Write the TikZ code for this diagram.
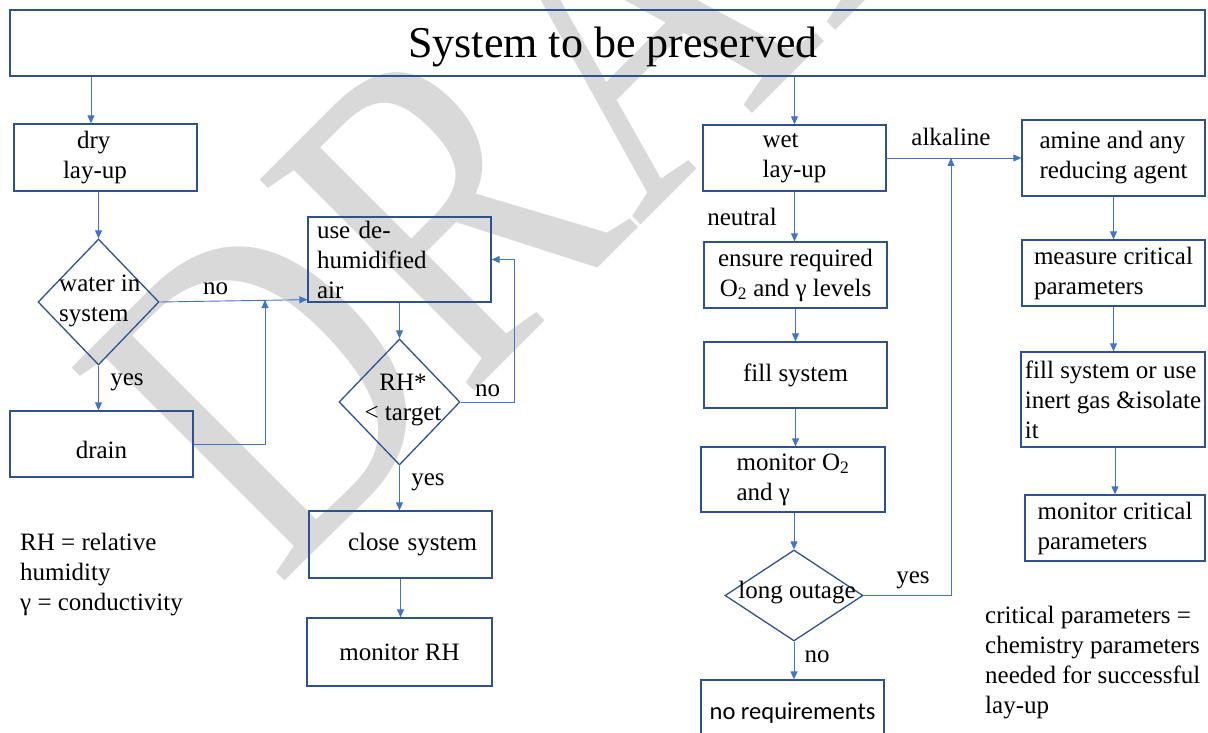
\documentclass[tikz,border=0pt]{standalone}
\usepackage{fontspec}
\setmainfont{Liberation Serif}
\newfontfamily\calfont{Carlito}
\usepackage{xcolor}
\usetikzlibrary{shapes.geometric,arrows.meta,positioning,calc}
\definecolor{boxblue}{HTML}{2F528F}
\definecolor{lineblue}{HTML}{4472C4}
\definecolor{wmgray}{HTML}{D9D9D9}

\begin{document}
\begin{tikzpicture}[x=1pt,y=-1pt,
    box/.style={draw=boxblue,line width=1.3pt,rectangle,align=left,inner sep=1pt,font=\fontsize{25}{30}\selectfont},
    dia/.style={draw=boxblue,line width=1.3pt,diamond,inner sep=0pt},
    txt/.style={font=\fontsize{25}{30}\selectfont,inner sep=0pt},
    arr/.style={draw=lineblue,line width=0.9pt,-{Triangle[length=8pt,width=7pt]}}]
    \useasboundingbox (0,0) rectangle (1208,733);
    \clip (0,0) rectangle (1208,733);

    % Watermark
    \node[rotate=45,anchor=base west,text=wmgray,inner sep=0pt,font=\fontsize{460}{460}\selectfont] (draft) at (277,589) {\scalebox{0.8}[1]{DRAFT}};

    % Top
    \node[box,align=center,minimum width=1195pt,minimum height=66pt,text depth=1pt,font=\fontsize{44}{50}\selectfont] (sys) at (607.5,43) {\hspace*{11pt}System to be preserved};

    % Dry branch
    \node[box,minimum width=183pt,minimum height=67pt,text width=85pt,inner xsep=49pt] (dry) at (105.5,157.5) {\hspace*{14pt}dry\\lay-up};
    \node[dia,minimum width=121pt,minimum height=126pt] (water) at (98.5,302) {};
    \node[txt,align=left,anchor=west] (water-t) at (59,301) {water in\\system};
    \node[box,align=center,minimum width=183pt,minimum height=66pt,text height=29pt] (drain) at (101.5,444) {drain};
    \node[box,minimum width=183pt,minimum height=85pt,text width=165pt,inner xsep=9pt,inner ysep=0pt] (dehum) at (399.5,259.5) {use de-\\humidified\\air};
    \node[dia,minimum width=121pt,minimum height=126pt] (rh) at (399.5,402) {};
    \node[txt,align=center] (rh-t) at (403,400) {RH*\\< target};
    \node[box,minimum width=183pt,minimum height=67pt,text width=183pt,inner xsep=0pt] (close) at (400.5,544.5) {\hspace*{39pt}close system};
    \node[box,align=center,minimum width=185pt,minimum height=68pt] (monrh) at (399.5,652) {monitor RH};
    \node[txt,align=left,anchor=west] (legend-rh) at (20,575) {RH = relative\\humidity\\γ = conductivity};

    % Wet branch
    \node[box,minimum width=183pt,minimum height=66pt] (wet) at (794.5,158) {wet\\lay-up};
    \node[box,minimum width=183pt,minimum height=76pt] (amine) at (1113.5,158) {amine and any\\reducing agent};
    \node[box,align=center,minimum width=183pt,minimum height=66pt] (ensure) at (795.5,275) {ensure required\\O\textsubscript{2} and γ levels};
    \node[box,align=center,minimum width=183pt,minimum height=66pt] (fillsys) at (795.5,375) {fill system};
    \node[box,minimum width=184pt,minimum height=65pt] (mono) at (793,479.5) {monitor O\textsubscript{2}\\and γ};
    \node[dia,minimum width=138pt,minimum height=91pt] (outage) at (794,595.5) {};
    \node[txt] (outage-t) at (797,593) {long outage};
    \node[box,align=center,minimum width=183pt,minimum height=66pt,font=\calfont\fontsize{24.5}{30}\selectfont] (noreq) at (792.5,713) {no requirements};
    \node[box,minimum width=183pt,minimum height=66pt] (measure) at (1113.5,273) {measure critical\\parameters};
    \node[box,minimum width=184pt,minimum height=95pt] (fillgas) at (1113,399.5) {fill system or use\\inert gas \&isolate\\it};
    \node[box,minimum width=180pt,minimum height=66pt] (moncrit) at (1115,528) {monitor critical\\parameters};
    \node[txt,align=left,anchor=west] (legend-cp) at (985,663) {critical parameters =\\chemistry parameters\\needed for successful\\lay-up};

    % Labels
    \node[txt] (no-water) at (215.5,289) {no};
    \node[txt] (yes-water) at (127,382) {yes};
    \node[txt] (no-rh) at (487.5,391) {no};
    \node[txt] (yes-rh) at (428,482) {yes};
    \node[txt] (alkaline) at (951,137) {alkaline};
    \node[txt] (neutral) at (742,217) {neutral};
    \node[txt] (yes-outage) at (913,580) {yes};
    \node[txt] (no-outage) at (817,657) {no};

    % Arrows
    \coordinate (merge) at (265,300);
    \coordinate (alk) at (951,158);
    \draw[arr] ([xshift=-14.5pt]dry.north |- sys.south) -- ([xshift=-14.5pt]dry.north);
    \draw[arr] (water.north |- dry.south) -- (water.north);
    \draw[arr] (water.south) -- (water.south |- drain.north);
    \draw[arr] (water.east) -- ([yshift=3pt]dehum.south west);
    \draw[arr] (drain.east) -| (merge);
    \draw[arr] (dehum.south) -- (rh.north);
    \draw[arr] (rh.east) -- ++(54pt,0) |- (dehum.east);
    \draw[arr] (rh.south) -- (rh.south |- close.north);
    \draw[arr] (close.south) -- (close.south |- monrh.north);
    \draw[arr] (wet.north |- sys.south) -- (wet.north);
    \draw[arr] (wet.east) -- (amine.west);
    \draw[arr] (wet.south) -- (wet.south |- ensure.north);
    \draw[arr] (ensure.south) -- (ensure.south |- fillsys.north);
    \draw[arr] (fillsys.south) -- (fillsys.south |- mono.north);
    \draw[arr] (mono.south -| outage.north) -- (outage.north);
    \draw[arr] (outage.south) -- (outage.south |- noreq.north);
    \draw[arr] (outage.east) -| (alk);
    \draw[arr] (amine.south) -- (amine.south |- measure.north);
    \draw[arr] (measure.south) -- (measure.south |- fillgas.north);
    \draw[arr] (fillgas.south -| moncrit.north) -- (moncrit.north);
\end{tikzpicture}
\end{document}
